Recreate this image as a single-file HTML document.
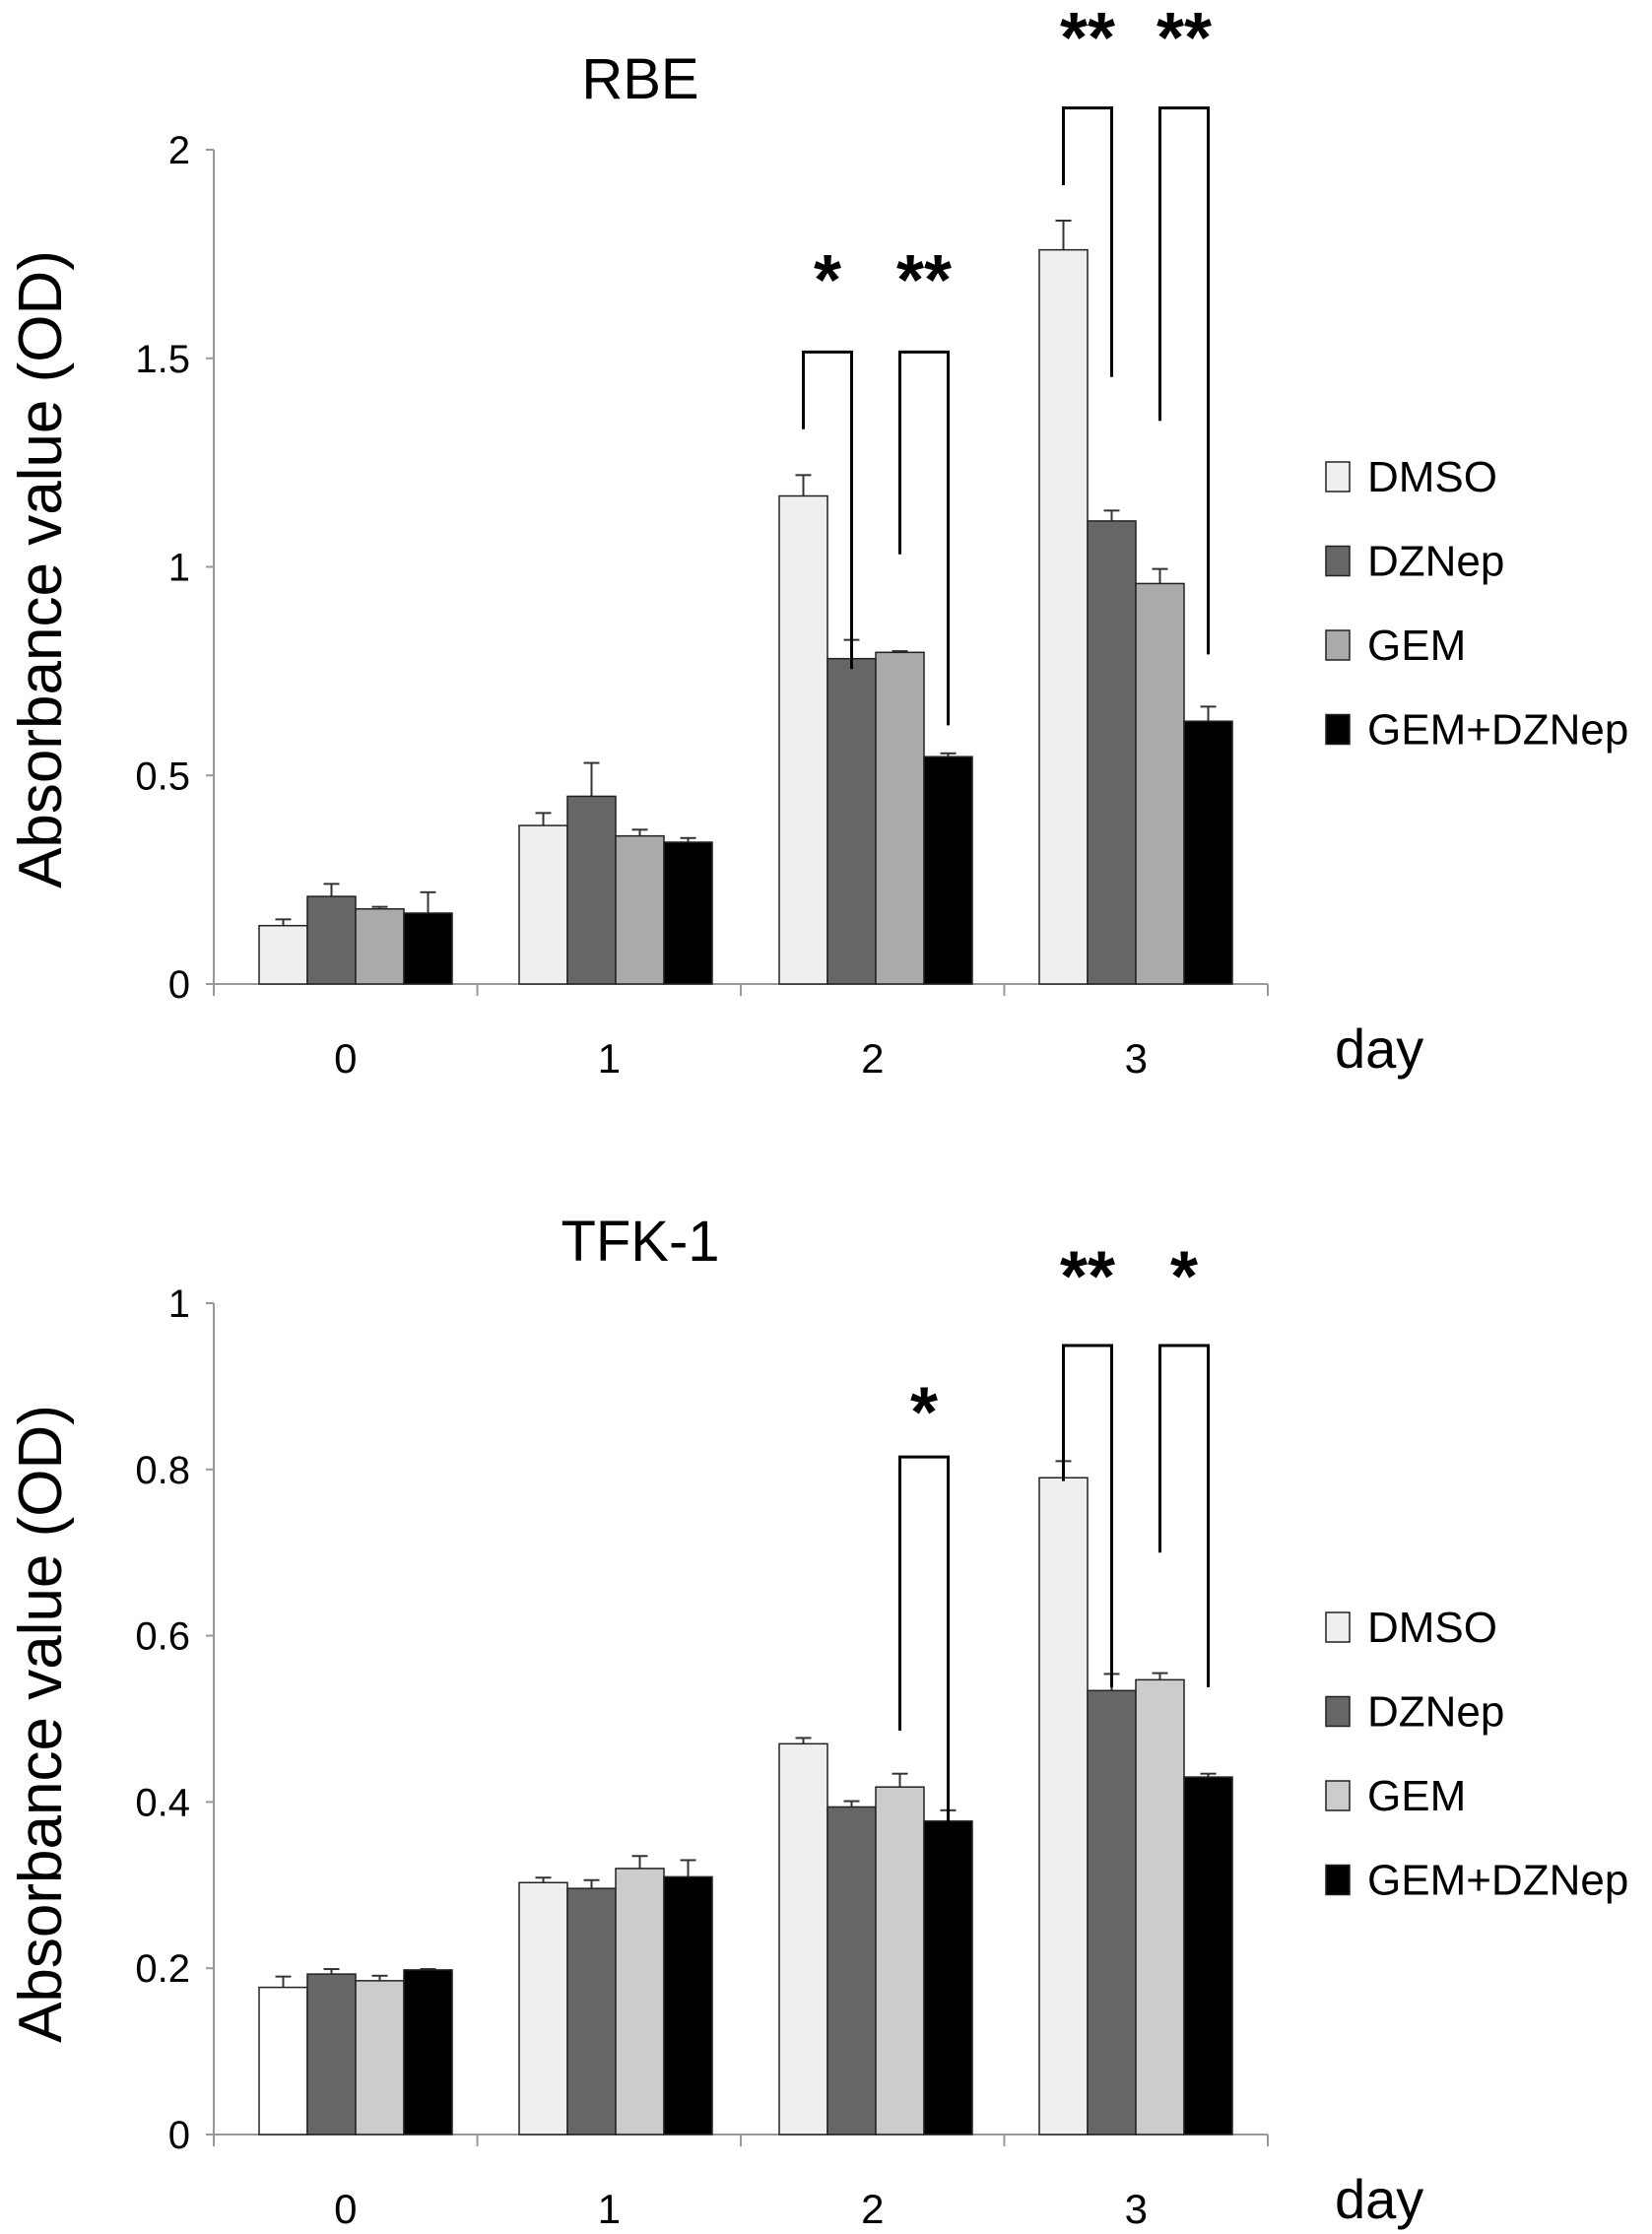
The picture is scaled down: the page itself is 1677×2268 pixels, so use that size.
<!DOCTYPE html>
<html><head><meta charset="utf-8"><style>
body{margin:0;background:#fff;width:1677px;height:2268px;overflow:hidden}
svg{display:block}
text{font-family:"Liberation Sans",sans-serif;fill:#000}
.n{font-family:"Liberation Sans Narrow","Liberation Sans",sans-serif}
</style></head><body>
<svg id="c" width="1677" height="2268"></svg>
<script>
const days=["0","1","2","3"];
const groups=["DMSO","DZNep","GEM","GEM+DZNep"];
const rbeVals=[[0.14,0.21,0.18,0.17],[0.38,0.45,0.355,0.34],[1.17,0.78,0.795,0.545],[1.76,1.11,0.96,0.63]];
const rbeErr=[[0.015,0.03,0.005,0.05],[0.03,0.08,0.015,0.01],[0.05,0.045,0.003,0.008],[0.07,0.025,0.035,0.035]];
const rbeTicks=[0,0.5,1,1.5,2];
const rbeTickLabels=["0","0.5","1","1.5","2"];
const rbeSig=[[2,0,1,1.515,1.33,0.755,"*",1.71],[2,2,3,1.515,1.03,0.62,"**",1.71],[3,0,1,2.10,1.915,1.455,"**",2.29],[3,2,3,2.10,1.35,0.79,"**",2.29]];
const tfkVals=[[0.177,0.193,0.185,0.198],[0.303,0.296,0.32,0.31],[0.47,0.394,0.418,0.377],[0.79,0.534,0.547,0.43]];
const tfkErr=[[0.013,0.006,0.006,0.001],[0.006,0.01,0.015,0.02],[0.007,0.007,0.016,0.013],[0.02,0.02,0.008,0.004]];
const tfkTicks=[0,0.2,0.4,0.6,0.8,1];
const tfkTickLabels=["0","0.2","0.4","0.6","0.8","1"];
const tfkSig=[[2,2,3,0.815,0.486,0.366,"*",0.88],[3,0,1,0.949,0.786,0.538,"**",1.043],[3,2,3,0.949,0.70,0.538,"*",1.043]];

const svg=document.getElementById('c');
const NS='http://www.w3.org/2000/svg';
function mk(t,a,txt){const e=document.createElementNS(NS,t);for(const k in a)e.setAttribute(k,a[k]);if(txt!==undefined)e.textContent=txt;svg.appendChild(e);return e;}

function chart(cfg){
  const x0=217,x1=1287,y0=cfg.y0,ppu=cfg.ppu;
  const Y=v=>y0-v*ppu;
  const gw=(x1-x0)/days.length,bw=49;
  const bx=(d,g)=>x0+46+d*264+g*bw;
  let e=mk('text',{x:650,y:cfg.titleY,'font-size':58,'text-anchor':'middle',class:'n'},cfg.title);
  
  e=mk('line',{x1:x0,y1:Y(cfg.ticks[cfg.ticks.length-1]),x2:x0,y2:y0,stroke:'#999','stroke-width':2});
  
  e=mk('line',{x1:x0,y1:y0,x2:x1,y2:y0,stroke:'#999','stroke-width':2});
  
  cfg.ticks.forEach((t,i)=>{
    mk('line',{x1:x0-8,y1:Y(t),x2:x0,y2:Y(t),stroke:'#999','stroke-width':2});
    e=mk('text',{x:x0-24,y:Y(t)+14,'font-size':40,'text-anchor':'end',class:'n'},cfg.tickLabels[i]);
    
  });
  for(let d=0;d<=days.length;d++)mk('line',{x1:x0+d*gw,y1:y0,x2:x0+d*gw,y2:y0+12,stroke:'#999','stroke-width':2});
  days.forEach((lab,d)=>{
    e=mk('text',{x:x0+(d+0.5)*gw,y:y0+90,'font-size':42,'text-anchor':'middle',class:'n'},lab);
    
  });
  e=mk('text',{x:1355,y:y0+85,'font-size':56,class:'n'},'day');
  
  const cy=cfg.ycenter;
  e=mk('text',{x:62,y:cy,'font-size':62,'text-anchor':'middle',transform:`rotate(-90 62 ${cy})`},'Absorbance value (OD)');
  
  cfg.vals.forEach((row,d)=>row.forEach((v,g)=>{
    const x=bx(d,g),cx=x+bw/2,col=(cfg.id==='tfk'&&d===0&&g===0)?'#fff':cfg.colors[g];
    const er=cfg.err[d][g];
    let l=mk('line',{x1:cx,y1:Y(v),x2:cx,y2:Y(v+er),stroke:'#333','stroke-width':2});
    
    mk('line',{x1:cx-8,y1:Y(v+er),x2:cx+8,y2:Y(v+er),stroke:'#333','stroke-width':2});
    const r=mk('rect',{x:x,y:Y(v),width:bw,height:v*ppu,fill:col,stroke:'#222','stroke-width':1.5});
    
    
  }));
  cfg.sig.forEach(s=>{
    const [d,ga,gb,top,la,lb,star,sy]=s;
    const xa=bx(d,ga)+bw/2,xb=bx(d,gb)+bw/2;
    const p=mk('path',{d:`M${xa} ${Y(la)}V${Y(top)}H${xb}V${Y(lb)}`,fill:'none',stroke:'#000','stroke-width':3});
    
    const t=mk('text',{x:(xa+xb)/2,y:Y(sy)+34,'font-size':72,'font-weight':'bold','text-anchor':'middle'},star);
    
  });
  groups.forEach((g,i)=>{
    const ly=cfg.legY+i*85.5;
    const r=mk('rect',{x:1346,y:ly-15,width:24,height:30,fill:cfg.colors[i],stroke:'#222','stroke-width':1.5});
    
    const t=mk('text',{x:1388,y:ly+15,'font-size':44,class:'n'},g);
    
  });
}
chart({id:'rbe',title:'RBE',titleY:100,y0:999,ppu:423.5,ticks:rbeTicks,tickLabels:rbeTickLabels,vals:rbeVals,err:rbeErr,sig:rbeSig,colors:['#efefef','#666','#aaa','#000'],legY:484,ycenter:578});
chart({id:'tfk',title:'TFK-1',titleY:1280,y0:2167,ppu:844,ticks:tfkTicks,tickLabels:tfkTickLabels,vals:tfkVals,err:tfkErr,sig:tfkSig,colors:['#efefef','#666','#ccc','#000'],legY:1652,ycenter:1750});
</script>
</body></html>
